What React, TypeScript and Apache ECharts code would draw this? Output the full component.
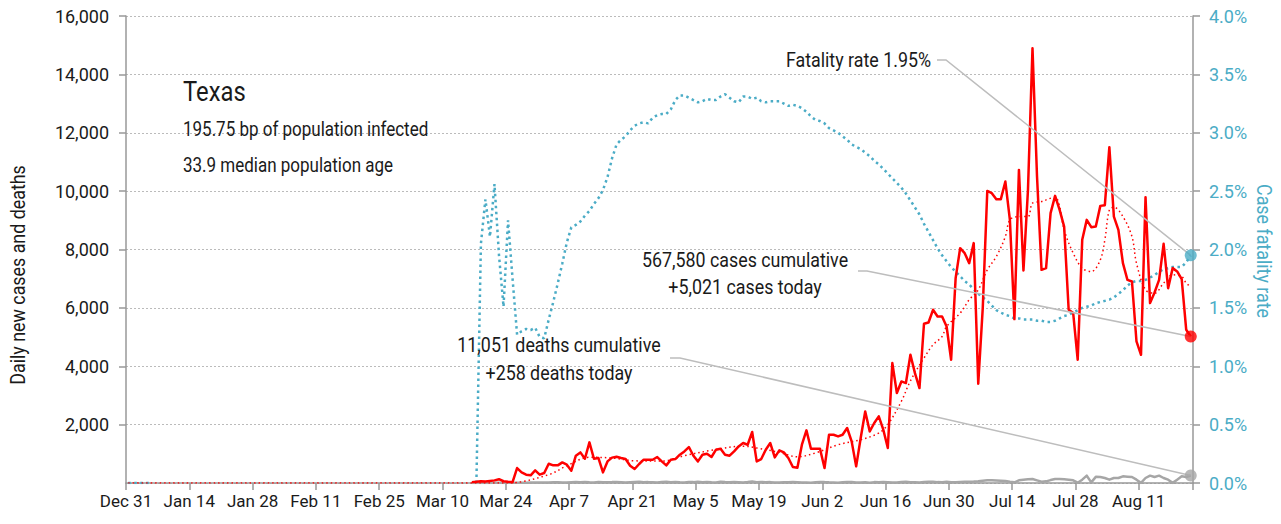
import React, { useEffect, useRef } from "react";
import * as echarts from "echarts";

// ---------- data (day index counted from Dec 31) ----------
const tickLabels = ["Dec 31", "Jan 14", "Jan 28", "Feb 11", "Feb 25", "Mar 10", "Mar 24", "Apr 7", "Apr 21", "May 5", "May 19", "Jun 2", "Jun 16", "Jun 30", "Jul 14", "Jul 28", "Aug 11"];
const tickStepDays = 14;
const axisEndDay = 236;
const dayCenter = 0.5;

const stateName = "Texas";
const infectedBp = "195.75";
const medianAge = "33.9";
const totalCases = 567580;
const totalDeaths = 11051;

const casesStartDay = 76;
const dailyCases = [
  30, 45, 60, 50, 70, 90, 130, 60, 40, 30,
  513, 364, 285, 262, 432, 285, 342, 661, 604, 604, 706, 627, 421, 935, 1049,
  832, 1391, 832, 856, 364, 740, 870, 900, 856, 821, 592, 479, 650, 798, 798,
  798, 890, 740, 604, 798, 821, 969, 1083, 1232, 935, 740, 969, 1003, 890, 1141,
  1175, 969, 935, 1083, 1254, 1369, 1312, 1746, 740, 821, 1141, 1369, 878, 1117, 1049,
  856, 547, 525, 1312, 1802, 1175, 1175, 1175, 513, 1654, 1654, 1597, 1654, 1884, 1426,
  569, 1541, 2452, 1768, 2055, 2282, 1826, 1199, 4109, 3082, 3480, 3424, 4393, 3766, 3253,
  5455, 5499, 5934, 5705, 5705, 5362, 4222, 7019, 8046, 7875, 7533, 8218, 3400, 6000, 10008,
  9930, 9724, 9724, 10327, 9015, 5615, 10728, 7280, 10043, 14894, 10500, 7303, 7362, 9245, 9837,
  9358, 8786, 5934, 5821, 4222, 8331, 9015, 8765, 8786, 9495, 9518, 11505, 9129, 8673, 7533,
  6961, 6904, 4849, 4393, 9793, 6163, 6527, 6961, 8195, 6676, 7362, 7248, 6985, 5250, 5021,
];

const deathsStartDay = 76;
const dailyDeaths = [
  1, 2, 2, 3, 4, 5, 6, 4, 8, 7,
  10, 12, 9, 14, 15, 18, 20, 17, 22, 25, 19, 15, 28, 30, 26,
  33, 24, 20, 35, 28, 22, 30, 34, 27, 15, 25, 33, 40, 28, 30,
  22, 15, 35, 42, 29, 38, 25, 20, 32, 30, 41, 27, 34, 22, 18,
  45, 35, 29, 31, 26, 20, 33, 50, 25, 38, 27, 30, 21, 15, 28,
  22, 35, 30, 20, 17, 12, 25, 33, 30, 22, 19, 8, 28, 35, 32,
  20, 18, 25, 12, 30, 28, 32, 25, 20, 18, 35, 40, 30, 25, 20,
  35, 40, 45, 30, 28, 42, 25, 30, 34, 40, 45, 50, 60, 80, 91,
  91, 85, 80, 68, 40, 23, 91, 110, 130, 137, 90, 46, 57, 100, 137,
  137, 125, 114, 91, 10, 114, 251, 23, 210, 205, 171, 114, 171, 171, 228,
  215, 205, 114, 5, 171, 251, 205, 251, 171, 114, 5, 114, 228, 205, 258,
];

// case fatality rate, percent
const fatalityEarlyStartDay = 0;
const fatalityRateEarly = [0, 0, 0, 0, 0, 0];
const fatalityStartDay = 77;
const fatalityRate = [
  0, 2.05, 2.43, 2.11, 2.56, 1.95, 1.51, 2.25, 1.75, 1.27, 1.30, 1.32, 1.31, 1.33,
  1.25, 1.24, 1.40, 1.55, 1.71, 1.88, 2.06, 2.19, 2.21, 2.24, 2.29, 2.33, 2.39, 2.44, 2.51,
  2.62, 2.78, 2.90, 2.94, 2.97, 3.02, 3.06, 3.08, 3.09, 3.08, 3.13, 3.15, 3.16, 3.16, 3.20,
  3.28, 3.32, 3.32, 3.30, 3.28, 3.26, 3.27, 3.29, 3.28, 3.28, 3.31, 3.33, 3.30, 3.27, 3.26,
  3.31, 3.31, 3.29, 3.30, 3.27, 3.26, 3.27, 3.27, 3.27, 3.25, 3.23, 3.24, 3.23, 3.21, 3.18,
  3.14, 3.11, 3.10, 3.08, 3.04, 3.02, 3.00, 2.97, 2.94, 2.90, 2.88, 2.86, 2.83, 2.80, 2.76,
  2.73, 2.69, 2.65, 2.61, 2.57, 2.53, 2.48, 2.42, 2.36, 2.30, 2.22, 2.15, 2.08, 2.01, 1.95,
  1.90, 1.85, 1.81, 1.77, 1.73, 1.70, 1.66, 1.62, 1.59, 1.56, 1.52, 1.48, 1.46, 1.44, 1.43,
  1.41, 1.41, 1.40, 1.40, 1.40, 1.39, 1.39, 1.38, 1.38, 1.39, 1.41, 1.43, 1.44, 1.46, 1.48,
  1.50, 1.51, 1.52, 1.54, 1.55, 1.56, 1.57, 1.59, 1.62, 1.65, 1.69, 1.72, 1.73, 1.73, 1.74,
  1.76, 1.78, 1.81, 1.83, 1.84, 1.85, 1.85, 1.85, 1.89, 1.95,
];

// trend of daily cases: [day, value]
const casesTrendDays = [0, 84, 93, 97, 102, 107, 112, 118, 123, 129, 136, 139, 144, 148, 152, 157, 162, 166, 168, 171, 173, 176, 178, 180, 181, 184, 186, 188, 190, 192, 194, 195, 197, 199, 200, 202, 203, 205, 206, 207, 209, 211, 213, 215, 216, 217, 218, 220, 222, 223, 225, 227, 229, 231, 233, 234, 235];
const casesTrendValues = [0, 0, 285, 590, 880, 856, 760, 750, 935, 1120, 1260, 1200, 1049, 900, 1030, 1312, 1483, 1711, 2000, 2800, 3500, 4280, 4735, 5020, 5362, 5821, 6276, 6619, 7303, 7759, 8444, 9015, 9128, 9128, 9587, 9642, 9700, 9793, 9471, 8673, 7875, 7362, 7245, 7646, 8331, 9358, 9450, 9128, 8444, 7533, 6619, 6506, 6848, 7132, 7074, 6848, 6732];

// ---------- styles ----------
const FONT = 'Roboto, "Liberation Sans", sans-serif';
const CONDENSE = 0.85;
const RED = "#ff0000";
const BLUE = "#4bacc6";
const GRAY = "#a6a6a6";
const AXIS = "#999999";
const TEXT = "#1a1a1a";
const LEADER = "#bdbdbd";

const fmtInt = (v: number) => Math.round(v).toLocaleString("en-US");

export default function App() {
  const ref = useRef<HTMLDivElement>(null);

  useEffect(() => {
    if (!ref.current) return;
    const chart = echarts.init(ref.current, null, { renderer: "svg" });

    const casesData = dailyCases.map((v, i) => [casesStartDay + i + dayCenter, v]);
    const deathsData = dailyDeaths.map((v, i) => [deathsStartDay + i + dayCenter, v]);
    const cfrEarlyData = fatalityRateEarly.map((v, i) => [fatalityEarlyStartDay + i + dayCenter, v]);
    const cfrData = fatalityRate.map((v, i) => [fatalityStartDay + i + dayCenter, v]);
    const trendData = casesTrendDays.map((d, i) => [d + dayCenter, casesTrendValues[i]]);

    const lastCase = casesData[casesData.length - 1];
    const lastDeath = deathsData[deathsData.length - 1];
    const lastCfr = cfrData[cfrData.length - 1];

    const option: any = {
      animation: false,
      backgroundColor: "#ffffff",
      grid: { left: 126, right: 88, top: 16, bottom: 41, containLabel: false },
      xAxis: {
        type: "value",
        min: 0,
        max: axisEndDay,
        interval: tickStepDays,
        axisLine: { show: true, lineStyle: { color: AXIS, width: 1.5 } },
        axisTick: { show: true, length: 7, lineStyle: { color: AXIS, width: 1.5 } },
        splitLine: { show: false },
        axisLabel: {
          margin: 9,
          color: TEXT,
          fontSize: 17,
          fontFamily: FONT,
          formatter: (v: number) => (v % tickStepDays === 0 ? tickLabels[v / tickStepDays] ?? "" : ""),
        },
      },
      yAxis: [
        {
          type: "value",
          min: 0,
          max: 16000,
          interval: 2000,
          position: "left",
          axisLine: { show: true, lineStyle: { color: AXIS, width: 1.5 } },
          axisTick: { show: true, length: 7, lineStyle: { color: AXIS, width: 1.5 } },
          splitLine: { show: true, lineStyle: { color: "#bbbbbb", width: 1, type: [2, 2] } },
          axisLabel: {
            margin: 17,
            showMinLabel: false,
            color: TEXT,
            fontSize: 18,
            fontFamily: FONT,
            formatter: (v: number) => (v === 0 ? "" : fmtInt(v)),
          },
        },
        {
          type: "value",
          min: 0,
          max: 4,
          interval: 0.5,
          position: "right",
          axisLine: { show: true, lineStyle: { color: AXIS, width: 1.5 } },
          axisTick: { show: true, length: 7, lineStyle: { color: AXIS, width: 1.5 } },
          splitLine: { show: false },
          axisLabel: { margin: 16, color: BLUE, fontSize: 18, fontFamily: FONT, formatter: (v: number) => v.toFixed(1) + "%" },
        },
      ],
      series: [
        {
          name: "Daily deaths",
          type: "line",
          yAxisIndex: 0,
          data: deathsData,
          showSymbol: false,
          lineStyle: { color: GRAY, width: 2.5, join: "round" },
          z: 2,
        },
        {
          name: "Case fatality rate (early)",
          type: "line",
          yAxisIndex: 1,
          data: cfrEarlyData,
          showSymbol: false,
          lineStyle: { color: BLUE, width: 2.5, type: [2.5, 3.5] },
          z: 3,
        },
        {
          name: "Case fatality rate",
          type: "line",
          yAxisIndex: 1,
          data: cfrData,
          showSymbol: false,
          lineStyle: { color: BLUE, width: 2.5, type: [2.5, 3.5] },
          z: 3,
        },
        {
          name: "Cases trend",
          type: "line",
          yAxisIndex: 0,
          data: trendData,
          smooth: 0.35,
          showSymbol: false,
          lineStyle: { color: RED, width: 1.5, type: [1.5, 3] },
          z: 4,
        },
        {
          name: "Daily cases",
          type: "line",
          yAxisIndex: 0,
          data: casesData,
          showSymbol: false,
          lineStyle: { color: RED, width: 2.5, join: "round" },
          z: 5,
        },
        { type: "scatter", yAxisIndex: 0, data: [lastCase], symbolSize: 12, itemStyle: { color: RED }, z: 10 },
        { type: "scatter", yAxisIndex: 0, data: [lastDeath], symbolSize: 12, itemStyle: { color: GRAY }, z: 10 },
        { type: "scatter", yAxisIndex: 1, data: [lastCfr], symbolSize: 12, itemStyle: { color: BLUE }, z: 10 },
      ],
    };

    chart.setOption(option);

    const pCase = chart.convertToPixel({ seriesIndex: 5 }, lastCase as any) as number[];
    const pDeath = chart.convertToPixel({ seriesIndex: 6 }, lastDeath as any) as number[];
    const pCfr = chart.convertToPixel({ seriesIndex: 7 }, lastCfr as any) as number[];

    const txt = (text: string, x: number, y: number, size: number, align: string, color = TEXT, rotation = 0) => ({
      type: "text",
      x,
      y,
      rotation,
      scaleX: CONDENSE,
      z: 20,
      style: { text, fill: color, fontSize: size, fontFamily: FONT, align, verticalAlign: "middle" },
    });
    const leader = (x1: number, x2: number, y: number, p: number[]) => ({
      type: "polyline",
      z: 6,
      shape: { points: [[x1, y], [x2, y], [p[0], p[1]]] },
      style: { stroke: LEADER, lineWidth: 1.5, fill: null },
    });

    chart.setOption({
      graphic: [
        txt(stateName, 183, 91, 28, "left"),
        txt(`${infectedBp} bp of population infected`, 183, 130, 20, "left"),
        txt(`${medianAge} median population age`, 183, 166, 20, "left"),
        txt(`Fatality rate ${lastCfr[1].toFixed(2)}%`, 931, 60, 21, "right"),
        txt(`${fmtInt(totalCases)} cases cumulative`, 745, 260, 21, "center"),
        txt(`+${fmtInt(lastCase[1])} cases today`, 745, 287, 21, "center"),
        txt(`${fmtInt(totalDeaths)} deaths cumulative`, 559, 345, 21, "center"),
        txt(`+${fmtInt(lastDeath[1])} deaths today`, 559, 373, 21, "center"),
        txt("Daily new cases and deaths", 18, 275, 21, "center", TEXT, Math.PI / 2),
        txt("Case fatality rate", 1264, 251, 21, "center", BLUE, -Math.PI / 2),
        leader(937, 946, 60, pCfr),
        leader(858, 867, 271, pCase),
        leader(670, 680, 358, pDeath),
      ],
    });

    return () => chart.dispose();
  }, []);

  return (
    <div
      ref={ref}
      style={{ position: "fixed", left: 0, top: 0, width: 1281, height: 524, background: "#ffffff" }}
    />
  );
}
